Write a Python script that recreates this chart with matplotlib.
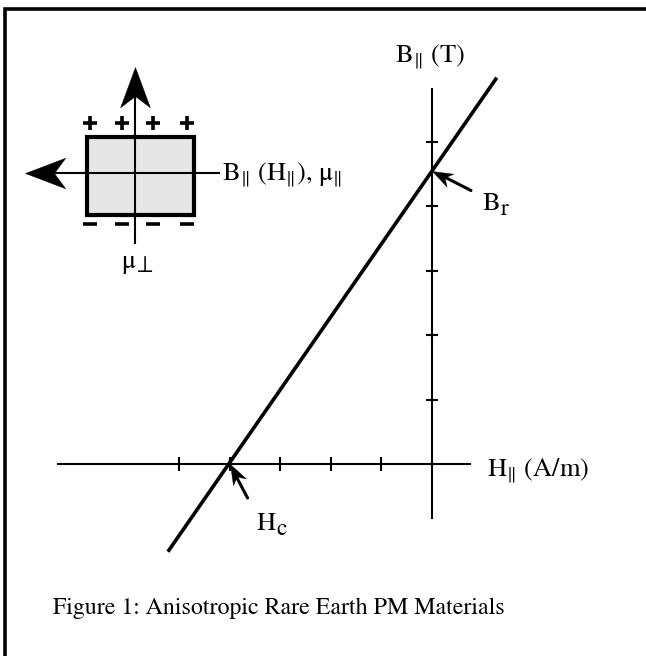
import numpy as np
import matplotlib
matplotlib.use('Agg')
import matplotlib.pyplot as plt
from matplotlib.path import Path
from matplotlib.markers import MarkerStyle
from matplotlib.transforms import Affine2D
from matplotlib.patches import Rectangle

plt.rcParams['font.family'] = ['STIXGeneral', 'DejaVu Serif']
plt.rcParams['mathtext.fontset'] = 'stix'

# ---- data (diagram units: H and B in tick steps) ----
Hc = -4.0
Br = 4.55
line_H = [-5.22, 1.28]
line_B = [-1.36, 5.99]
H_ticks = [-5, -4, -3, -2, -1]
B_ticks = [1, 2, 3, 4, 5]
H_axis_extent = [-7.39, 0.75]
B_axis_extent = [-0.83, 5.82]

# schematic (inset) positions in pixels
plus_x = [90, 122, 153, 187]
minus_x = [90, 122, 153, 187]

W, Hh = 646, 656
fig = plt.figure(figsize=(W / 100, Hh / 100), dpi=100)
fig.patch.set_facecolor('white')

# overlay axes in pixel coords
ov = fig.add_axes([0, 0, 1, 1])
ov.set_xlim(0, W)
ov.set_ylim(Hh, 0)
ov.axis('off')

# main axes: origin at px (432, 464)
sx, sy = 50.6, 64.5
ax = fig.add_axes([0, 0, 1, 1])
ax.set_xlim(-432 / sx, (W - 432) / sx)
ax.set_ylim(-(Hh - 464) / sy, 464 / sy)
ax.axis('off')
ax.patch.set_alpha(0)


def head(angle, ratio=0.35, notch=0.72):
    verts = [(0, 0), (-1, ratio), (-notch, 0), (-1, -ratio), (0, 0)]
    codes = [Path.MOVETO, Path.LINETO, Path.LINETO, Path.LINETO, Path.CLOSEPOLY]
    return MarkerStyle(Path(verts, codes), transform=Affine2D().rotate_deg(angle))


# border (top & left)
ov.plot([5, 5, W], [Hh, 8.5, 8.5], color='black', lw=2.6, solid_capstyle='butt',
        solid_joinstyle='miter')

# axes lines
ax.plot(H_axis_extent, [0, 0], color='black', lw=1.5)
ax.plot([0, 0], B_axis_extent, color='black', lw=1.5)
ax.plot(H_ticks, [0] * len(H_ticks), ls='none', marker='|', ms=9.5, mew=1.5, color='black')
ax.plot([0] * len(B_ticks), B_ticks, ls='none', marker='_', ms=8.5, mew=1.5, color='black')

# demagnetisation line
ax.plot(line_H, line_B, color='black', lw=2.6, solid_capstyle='butt')


# arrows to Br and Hc
def pointer(xy, off, shrink):
    ox, oy = off
    ax.annotate('', xy=xy, xytext=(ox, oy), textcoords='offset pixels',
                arrowprops=dict(arrowstyle='-', lw=2.2, shrinkA=0, shrinkB=shrink,
                                color='black'))
    ang = np.degrees(np.arctan2(-oy, -ox))
    ax.plot([xy[0]], [xy[1]], ls='none', marker=head(ang, 0.36, 0.7), ms=29,
            color='black', mew=0.3, zorder=5)


pointer((0, Br), (39, -20), 10)
pointer((Hc, 0), (18, -34), 10)


def sublabel(xy, off, main, sub, dx, dy=-5, size=19, subsize=16.5):
    ax.annotate(main, xy=xy, xytext=off, textcoords='offset pixels',
                ha='left', va='baseline', fontsize=size)
    ax.annotate(sub, xy=xy, xytext=(off[0] + dx, off[1] + dy), textcoords='offset pixels',
                ha='left', va='baseline', fontsize=subsize)


sublabel((0, Br), (51, -39), 'B', 'r', 17.5)
sublabel((Hc, 0), (27, -66), 'H', 'c', 19.5)

# axis labels
ov.text(395, 63, 'B$_{\\Vert}$ (T)', ha='left', va='baseline', fontsize=19)
ov.text(487, 477, 'H$_{\\Vert}$ (A/m)', ha='left', va='baseline', fontsize=19)

# inset schematic
ov.add_patch(Rectangle((87, 137), 107, 78, facecolor='#e6e6e6', edgecolor='black', lw=3,
                       zorder=2))
ov.plot([135, 135], [243, 95], color='black', lw=1.5, zorder=3)
ov.plot([219, 50], [173, 173], color='black', lw=1.5, zorder=3)
ov.plot([135], [67], ls='none', marker=head(90, 0.37, 0.72), ms=58, color='black', mew=0.3,
        zorder=4)
ov.plot([25], [173], ls='none', marker=head(180, 0.38, 0.72), ms=58, color='black', mew=0.3,
        zorder=4)
ov.plot(plus_x, [123] * len(plus_x), ls='none', marker='+', ms=9.5, mew=2.6, color='black')
ov.plot(minus_x, [224] * len(minus_x), ls='none', marker='_', ms=10, mew=2.6, color='black')

ov.text(222, 181, 'B$_{\\Vert}$ (H$_{\\Vert}$), μ$_{\\Vert}$', ha='left', va='baseline',
        fontsize=19)
ov.text(122, 268, 'μ', ha='left', va='baseline', fontsize=19)
ov.text(137, 272, '⊥', ha='left', va='baseline', fontsize=17)

# caption
ov.text(53, 614, 'Figure 1: Anisotropic Rare Earth PM Materials', ha='left',
        va='baseline', fontsize=17.2)

fig.savefig('out.png', dpi=100, facecolor='white')
